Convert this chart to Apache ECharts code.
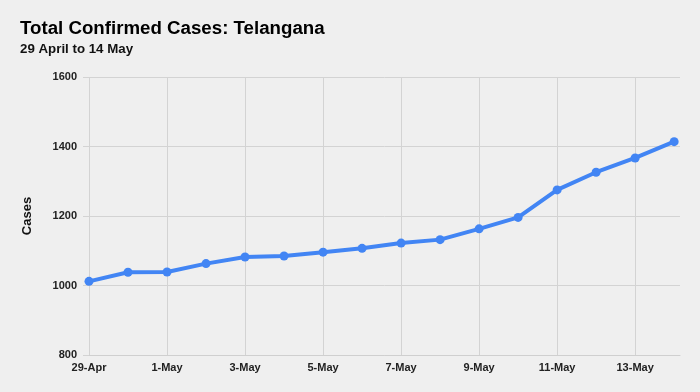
<!DOCTYPE html>
<html><head><meta charset="utf-8">
<script src="https://cdn.jsdelivr.net/npm/echarts@6/dist/echarts.min.js"></script>
<style>html,body{margin:0;padding:0;background:#efefef}#c{width:700px;height:392px}</style>
</head><body><div id="c"></div>
<script>
var categories = ['29-Apr','30-Apr','1-May','2-May','3-May','4-May','5-May','6-May','7-May','8-May','9-May','10-May','11-May','12-May','13-May','14-May'];
var cases = [1012,1038,1039,1063,1082,1085,1096,1107,1122,1132,1163,1196,1275,1326,1367,1414];
var yTicks = [800,1000,1200,1400,1600];

var data = cases.map(function(v,i){return [i,v];});
var chart = echarts.init(document.getElementById('c'));
var F = 'Liberation Sans, Arial';
chart.setOption({
  backgroundColor:'#efefef',
  animation:false,
  title:[
    {text:'Total Confirmed Cases: Telangana',left:15,top:14,textStyle:{fontFamily:F,fontSize:18.7,fontWeight:'bold',color:'#000'}},
    {text:'29 April to 14 May',left:15,top:38,textStyle:{fontFamily:F,fontSize:13.3,fontWeight:'bold',color:'#111'}}
  ],
  grid:{left:89,right:20,top:77,bottom:37},
  xAxis:{type:'value',min:0,max:15.15,interval:2,
    axisLine:{lineStyle:{color:'#cfcfcf',width:1}},
    axisTick:{show:false},
    splitLine:{show:true,showMaxLine:false,lineStyle:{color:'#d3d3d3'}},
    axisLabel:{showMaxLabel:false,margin:7,color:'#222',fontFamily:F,fontSize:11,fontWeight:'bold',
      formatter:function(v){return categories[Math.round(v)]||'';}}
  },
  yAxis:{type:'value',min:yTicks[0],max:yTicks[yTicks.length-1],interval:200,
    name:'Cases',nameLocation:'middle',nameGap:55,
    nameTextStyle:{fontFamily:F,fontSize:13,fontWeight:'bold',color:'#111'},
    axisLine:{show:false},
    axisTick:{show:true,length:6,lineStyle:{color:'#d3d3d3'}},
    splitLine:{lineStyle:{color:'#d3d3d3'}},
    axisLabel:{margin:12,color:'#222',fontFamily:F,fontSize:11,fontWeight:'bold',
      formatter:function(v){return String(v);}}
  },
  series:[{type:'line',data:data,symbol:'circle',symbolSize:9,
    lineStyle:{color:'#4285f4',width:4},itemStyle:{color:'#4285f4'}}]
});
</script></body></html>
